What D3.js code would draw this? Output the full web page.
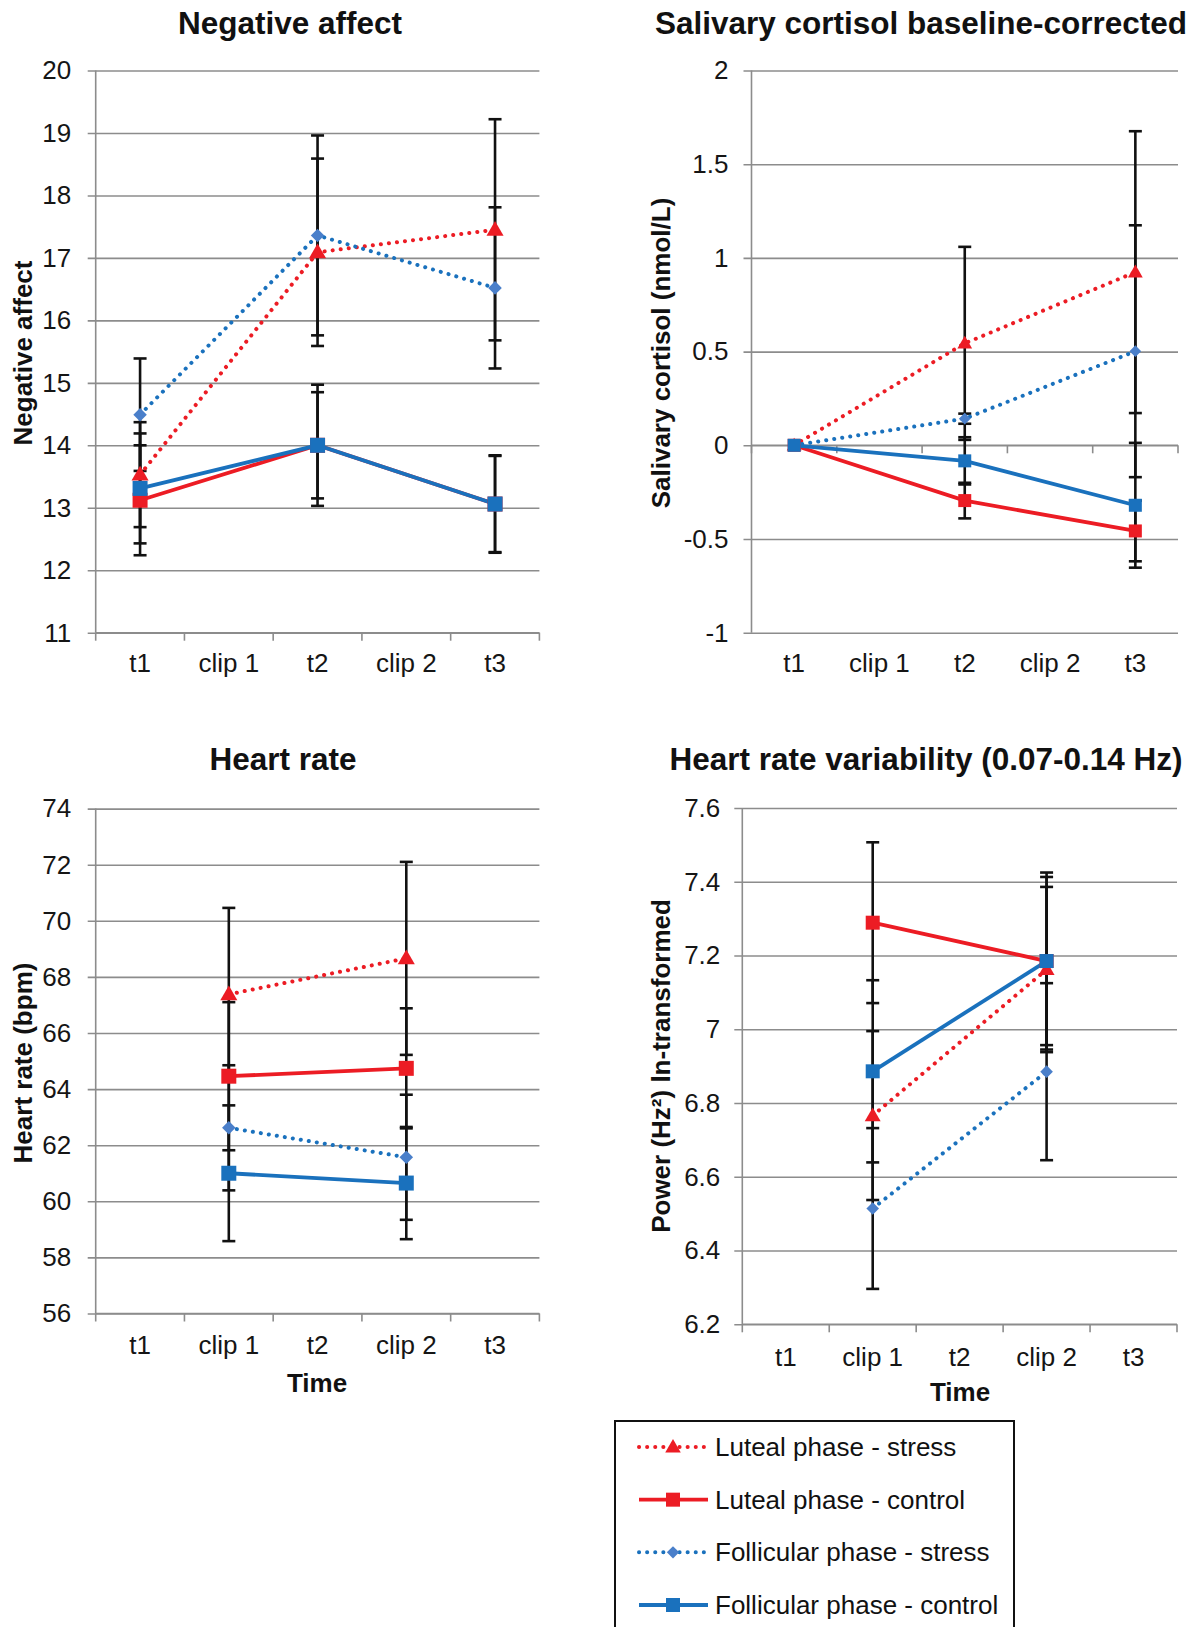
<!DOCTYPE html>
<html>
<head>
<meta charset="utf-8">
<script src="https://cdn.jsdelivr.net/npm/d3@7"></script>
<style>
  html, body { margin: 0; padding: 0; background: #fff; }
  svg { display: block; font-family: "Liberation Sans", Arial, sans-serif; }
</style>
</head>
<body>
<svg id="chart" width="1197" height="1627"></svg>
<script>
// ---------------- DATA ----------------
const categories = ["t1", "clip 1", "t2", "clip 2", "t3"];
const seriesNames = ["Luteal phase - stress", "Luteal phase - control", "Follicular phase - stress", "Follicular phase - control"];

// Negative affect
const naLutealStress      = [13.53, null, 17.09, null, 17.45];
const naLutealStressErr   = [0.84,  null, 1.50,  null, 1.77];
const naLutealControl     = [13.12, null, 14.00, null, 13.06];
const naLutealControlErr  = [0.88,  null, 0.97,  null, 0.78];
const naFollStress        = [14.49, null, 17.36, null, 16.52];
const naFollStressErr     = [0.90,  null, 1.60,  null, 1.29];
const naFollControl       = [13.31, null, 14.00, null, 13.06];
const naFollControlErr    = [0.88,  null, 0.85,  null, 0.77];
const naTicks = [11, 12, 13, 14, 15, 16, 17, 18, 19, 20];

// Salivary cortisol baseline-corrected
const coLutealStress      = [0, null, 0.544, null, 0.924];
const coLutealStressErr   = [0, null, 0.515, null, 0.752];
const coLutealControl     = [0, null, -0.295, null, -0.457];
const coLutealControlErr  = [0, null, 0.095, null, 0.162];
const coFollStress        = [0, null, 0.142, null, 0.502];
const coFollStressErr     = [0, null, 0.027, null, 0.672];
const coFollControl       = [0, null, -0.083, null, -0.320];
const coFollControlErr    = [0, null, 0.126, null, 0.333];
const coTicks = [-1, -0.5, 0, 0.5, 1, 1.5, 2];

// Heart rate
const hrLutealStress      = [null, 67.38, null, 68.66, null];
const hrLutealStressErr   = [null, 3.08,  null, 3.44,  null];
const hrLutealControl     = [null, 64.46, null, 64.74, null];
const hrLutealControlErr  = [null, 2.64,  null, 2.14,  null];
const hrFollStress        = [null, 62.62, null, 61.57, null];
const hrFollStressErr     = [null, 2.23,  null, 2.23,  null];
const hrFollControl       = [null, 61.00, null, 60.65, null];
const hrFollControlErr    = [null, 2.42,  null, 2.00,  null];
const hrTicks = [56, 58, 60, 62, 64, 66, 68, 70, 72, 74];

// Heart rate variability
const hvLutealStress      = [null, 6.766, null, 7.162, null];
const hvLutealStressErr   = [null, 0.229, null, 0.224, null];
const hvLutealControl     = [null, 7.289, null, 7.185, null];
const hvLutealControlErr  = [null, 0.218, null, 0.240, null];
const hvFollStress        = [null, 6.514, null, 6.885, null];
const hvFollStressErr     = [null, 0.218, null, 0.240, null];
const hvFollControl       = [null, 6.886, null, 7.185, null];
const hvFollControlErr    = [null, 0.247, null, 0.228, null];
const hvTicks = [6.2, 6.4, 6.6, 6.8, 7, 7.2, 7.4, 7.6];

// ---------------- STYLE ----------------
const RED = "#ec1c24", BLUE = "#1a71bd", DIAMOND = "#4a7fca";
const GRID = "#8c8c8c";
const seriesStyle = [
  { color: RED,  dotted: true,  marker: "triangle", fill: RED },
  { color: RED,  dotted: false, marker: "square",   fill: RED },
  { color: BLUE, dotted: true,  marker: "diamond",  fill: DIAMOND },
  { color: BLUE, dotted: false, marker: "square",   fill: BLUE }
];

const panels = [
  { title: "Negative affect", ylabel: "Negative affect", domain: [11, 20], ticks: naTicks, axisAt: 11,
    left: 95.7, right: 539.4, top: 70.5, bottom: 632.7, tickPad: 16.5, labelY: 663,
    titleX: 290, titleY: 23, ylabX: 23, ylabY: 353, msize: 15, xTitle: null,
    series: [[naLutealStress, naLutealStressErr], [naLutealControl, naLutealControlErr], [naFollStress, naFollStressErr], [naFollControl, naFollControlErr]] },
  { title: "Salivary cortisol baseline-corrected", ylabel: "Salivary cortisol (nmol/L)", domain: [-1, 2], ticks: coTicks, axisAt: 0,
    left: 751.5, right: 1178, top: 70.5, bottom: 632.7, tickPad: 15, labelY: 663,
    titleX: 921, titleY: 23, ylabX: 661, ylabY: 353, msize: 13, xTitle: null,
    series: [[coLutealStress, coLutealStressErr], [coLutealControl, coLutealControlErr], [coFollStress, coFollStressErr], [coFollControl, coFollControlErr]] },
  { title: "Heart rate", ylabel: "Heart rate (bpm)", domain: [56, 74], ticks: hrTicks, axisAt: 56,
    left: 95.7, right: 539.4, top: 808.6, bottom: 1313.5, tickPad: 16.5, labelY: 1345,
    titleX: 283, titleY: 759, ylabX: 23, ylabY: 1063, msize: 15, xTitle: { x: 317, y: 1383 },
    series: [[hrLutealStress, hrLutealStressErr], [hrLutealControl, hrLutealControlErr], [hrFollStress, hrFollStressErr], [hrFollControl, hrFollControlErr]] },
  { title: "Heart rate variability (0.07-0.14 Hz)", ylabel: "Power (Hz\u00B2) ln-transformed", domain: [6.2, 7.6], ticks: hvTicks, axisAt: 6.2,
    left: 742.3, right: 1177, top: 808, bottom: 1324.3, tickPad: 14, labelY: 1357,
    titleX: 926, titleY: 759, ylabX: 661, ylabY: 1066, msize: 14, xTitle: { x: 960, y: 1392 },
    series: [[hvLutealStress, hvLutealStressErr], [hvLutealControl, hvLutealControlErr], [hvFollStress, hvFollStressErr], [hvFollControl, hvFollControlErr]] }
];

const svg = d3.select("#chart");

function markerPath(type, size) {
  if (type === "square") return d3.symbol(d3.symbolSquare, size * size)();
  if (type === "triangle") return d3.symbol(d3.symbolTriangle, size * size * 0.62)();
  return d3.symbol(d3.symbolSquare, size * size * 0.45)(); // rotated later -> diamond
}

panels.forEach(p => {
  const g = svg.append("g");
  const x = d3.scaleBand().domain(categories).range([p.left, p.right]).paddingInner(0).paddingOuter(0);
  const y = d3.scaleLinear().domain(p.domain).range([p.bottom, p.top]);
  const cx = c => x(c) + x.bandwidth() / 2;
  const w = p.right - p.left;

  // y gridlines + labels via d3 axis
  const yAxis = d3.axisLeft(y).tickValues(p.ticks).tickSize(-(w + 8)).tickPadding(p.tickPad)
    .tickFormat(d => String(d));
  const ya = g.append("g").attr("transform", `translate(${p.left - 8},0)`).call(yAxis);
  ya.select(".domain").remove();
  ya.selectAll(".tick line").attr("stroke", GRID).attr("stroke-width", 1.6);
  ya.selectAll(".tick text").attr("fill", "#151515").attr("font-size", 26)
    .attr("font-family", "'Liberation Sans', Arial, sans-serif");

  // y axis line
  g.append("line").attr("x1", p.left).attr("x2", p.left).attr("y1", p.top).attr("y2", p.bottom)
    .attr("stroke", GRID).attr("stroke-width", 1.6);
  // category axis line + boundary ticks
  const ay = y(p.axisAt);
  g.append("line").attr("x1", p.left).attr("x2", p.right).attr("y1", ay).attr("y2", ay)
    .attr("stroke", GRID).attr("stroke-width", 1.6);
  const bounds = categories.map(c => x(c)).concat([p.right]);
  g.selectAll(".btick").data(bounds).join("line")
    .attr("x1", d => d).attr("x2", d => d).attr("y1", ay).attr("y2", ay + 8)
    .attr("stroke", GRID).attr("stroke-width", 1.6);

  // category labels
  g.selectAll(".clab").data(categories).join("text")
    .attr("x", d => cx(d)).attr("y", p.labelY).attr("text-anchor", "middle")
    .attr("dominant-baseline", "central").attr("font-size", 26).attr("fill", "#151515").text(d => d);

  // title
  g.append("text").attr("x", p.titleX).attr("y", p.titleY).attr("text-anchor", "middle")
    .attr("dominant-baseline", "central").attr("font-size", 31.5).attr("font-weight", "bold")
    .attr("fill", "#111").text(p.title);
  // y label
  g.append("text").attr("transform", `translate(${p.ylabX},${p.ylabY}) rotate(-90)`)
    .attr("text-anchor", "middle").attr("dominant-baseline", "central")
    .attr("font-size", 26).attr("font-weight", "bold").attr("fill", "#111").text(p.ylabel);
  if (p.xTitle) {
    g.append("text").attr("x", p.xTitle.x).attr("y", p.xTitle.y).attr("text-anchor", "middle")
      .attr("dominant-baseline", "central").attr("font-size", 26).attr("font-weight", "bold")
      .attr("fill", "#111").text("Time");
  }

  const pts = p.series.map(([vals, errs]) =>
    categories.map((c, i) => ({ c, v: vals[i], e: errs[i] })).filter(d => d.v !== null));

  // error bars
  pts.forEach(arr => {
    arr.filter(d => d.e).forEach(d => {
      const X = cx(d.c);
      g.append("line").attr("x1", X).attr("x2", X).attr("y1", y(d.v - d.e)).attr("y2", y(d.v + d.e))
        .attr("stroke", "#111").attr("stroke-width", 2.6);
      [d.v - d.e, d.v + d.e].forEach(vv => {
        g.append("line").attr("x1", X - 6.5).attr("x2", X + 6.5).attr("y1", y(vv)).attr("y2", y(vv))
          .attr("stroke", "#111").attr("stroke-width", 2.6);
      });
    });
  });

  // lines
  const line = d3.line().x(d => cx(d.c)).y(d => y(d.v));
  pts.forEach((arr, si) => {
    const st = seriesStyle[si];
    g.append("path").datum(arr).attr("d", line).attr("fill", "none")
      .attr("stroke", st.color).attr("stroke-width", st.dotted ? 4 : 3.8)
      .attr("stroke-linecap", st.dotted ? "round" : "butt")
      .attr("stroke-dasharray", st.dotted ? "0.1 8" : null);
  });
  // markers
  pts.forEach((arr, si) => {
    const st = seriesStyle[si];
    g.selectAll(null).data(arr).join("path")
      .attr("d", markerPath(st.marker, st.marker === "square" ? p.msize : p.msize * 0.95))
      .attr("transform", d => `translate(${cx(d.c)},${y(d.v) + (st.marker === "triangle" ? 1 : 0)})` + (st.marker === "diamond" ? " rotate(45)" : ""))
      .attr("fill", st.fill);
  });
});

// ---------------- LEGEND ----------------
const lg = svg.append("g");
lg.append("rect").attr("x", 615).attr("y", 1421).attr("width", 399).attr("height", 230)
  .attr("fill", "#fff").attr("stroke", "#111").attr("stroke-width", 2);
const rowY = d3.scalePoint().domain(seriesNames).range([1447, 1605]);
seriesNames.forEach((name, i) => {
  const st = seriesStyle[i];
  const yy = rowY(name);
  lg.append("line").attr("x1", 639).attr("x2", 708).attr("y1", yy).attr("y2", yy)
    .attr("stroke", st.color).attr("stroke-width", st.dotted ? 4 : 3.8)
    .attr("stroke-linecap", st.dotted ? "round" : "butt")
    .attr("stroke-dasharray", st.dotted ? "0.1 8" : null);
  lg.append("path").attr("d", markerPath(st.marker, st.marker === "square" ? 14 : 13))
    .attr("transform", `translate(673,${yy + (st.marker === "triangle" ? 1 : 0)})` + (st.marker === "diamond" ? " rotate(45)" : ""))
    .attr("fill", st.fill);
  lg.append("text").attr("x", 715).attr("y", yy).attr("dominant-baseline", "central")
    .attr("font-size", 26).attr("fill", "#111").text(name);
});
</script>
</body>
</html>
